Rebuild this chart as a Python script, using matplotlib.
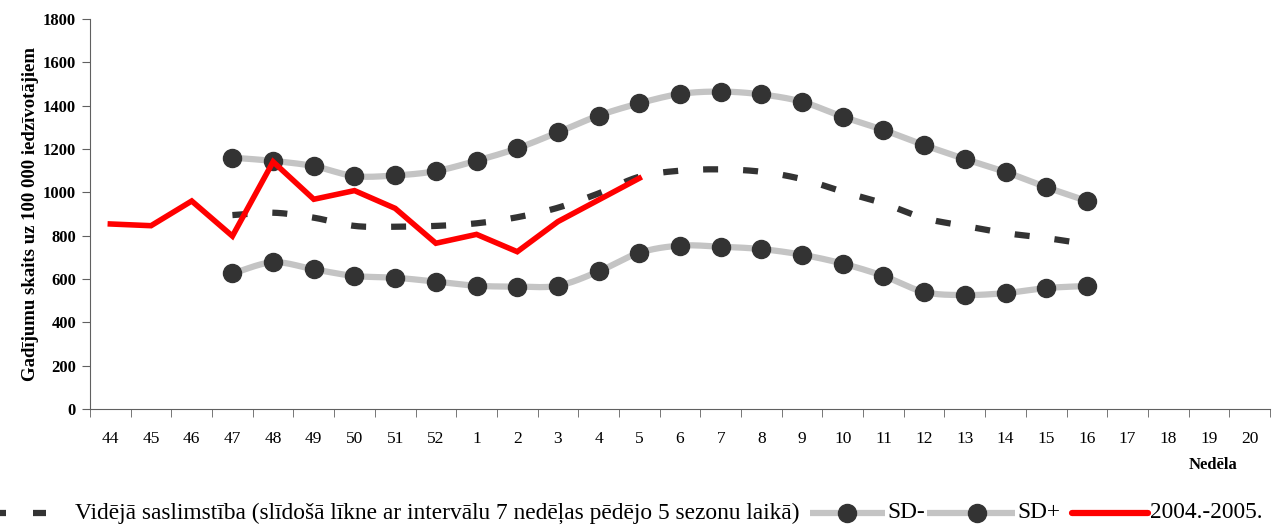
import numpy as np
import matplotlib
matplotlib.use("Agg")
import matplotlib.pyplot as plt
from matplotlib.lines import Line2D

plt.rcParams['font.family'] = ['Liberation Serif', 'DejaVu Serif']

weeks = ['44', '45', '46', '47', '48', '49', '50', '51', '52', '1', '2', '3', '4', '5',
         '6', '7', '8', '9', '10', '11', '12', '13', '14', '15', '16', '17', '18', '19', '20']

# week 47 .. 16
mean_vals = [895, 906, 883, 845, 841, 845, 857, 885, 929, 995, 1072, 1100, 1106, 1095,
             1061, 1003, 949, 881, 845, 812, 789, 761]
sd_minus = [626, 677, 645, 614, 606, 588, 569, 565, 569, 635, 721, 754, 749, 738,
            712, 671, 614, 540, 526, 535, 558, 568]
sd_plus = [1160, 1145, 1121, 1075, 1078, 1098, 1146, 1203, 1277, 1354, 1411, 1454, 1465, 1452,
           1418, 1349, 1288, 1218, 1154, 1094, 1024, 960]
# week 44 .. 5
season_2004 = [854, 846, 960, 798, 1141, 968, 1008, 926, 765, 806, 726, 865, 965, 1065]


def smooth(x, y, n=20):
    # Catmull-Rom curve through the points (like Excel "smoothed line")
    x = np.asarray(x, float)
    y = np.asarray(y, float)
    px = np.concatenate([[2 * x[0] - x[1]], x, [2 * x[-1] - x[-2]]])
    py = np.concatenate([[2 * y[0] - y[1]], y, [2 * y[-1] - y[-2]]])
    xs, ys = [], []
    t = np.linspace(0, 1, n, endpoint=False)
    for i in range(1, len(px) - 2):
        for p, out in ((px, xs), (py, ys)):
            p0, p1, p2, p3 = p[i - 1], p[i], p[i + 1], p[i + 2]
            out.extend(0.5 * ((2 * p1) + (-p0 + p2) * t
                              + (2 * p0 - 5 * p1 + 4 * p2 - p3) * t ** 2
                              + (-p0 + 3 * p1 - 3 * p2 + p3) * t ** 3))
    xs.append(x[-1])
    ys.append(y[-1])
    return np.array(xs), np.array(ys)


W, H = 1274, 526
fig = plt.figure(figsize=(W / 100, H / 100), dpi=100)
ax = fig.add_axes([90 / W, 117 / H, 1180 / W, 390 / H])

x_sd = np.arange(3, 3 + len(sd_plus))
x_red = np.arange(len(season_2004))

sd_col = '#c4c4c4'
mk_col = '#333333'
dash = (0, (2.4, 4.0))

for vals in (sd_minus, sd_plus):
    sx, sy = smooth(x_sd, vals)
    ax.plot(sx, sy, color=sd_col, lw=4.5, zorder=2, solid_capstyle='butt')
    ax.plot(x_sd, vals, ls='none', marker='o', ms=13, color=mk_col, zorder=3)

mx, my = smooth(x_sd, mean_vals)
ax.plot(mx, my, color=mk_col, lw=4.5, ls=dash, zorder=2)

ax.plot(x_red, season_2004, color='#ff0000', lw=4, zorder=4, solid_joinstyle='miter')

ax.set_xlim(-0.5, len(weeks) - 0.5)
ax.set_ylim(0, 1800)
ax.set_yticks(np.arange(0, 1801, 200))
ax.set_yticklabels([str(v) for v in range(0, 1801, 200)], fontweight='bold', fontsize=12)
ax.set_xticks(np.arange(len(weeks)))
ax.set_xticklabels(weeks, fontsize=12.5)
ax.set_xticks(np.arange(len(weeks) + 1) - 0.5, minor=True)
ax.tick_params(axis='x', which='major', length=0, pad=16)
ax.tick_params(axis='x', which='minor', length=6, color='#606060', direction='out')
ax.tick_params(axis='y', length=6, color='#606060', pad=4)
for s in ('top', 'right'):
    ax.spines[s].set_visible(False)
for s in ('left', 'bottom'):
    ax.spines[s].set_color('#606060')

ax.set_ylabel('Gadījumu skaits uz 100 000 iedzīvotājiem', fontweight='bold', fontsize=13.5, labelpad=3)
fig.text(1213 / W, 1 - 465 / H, 'Nedēla', fontweight='bold', fontsize=12, ha='center', va='center')

# legend drawn along the bottom edge
ly = 1 - 513 / H
def fx(px):
    return px / W

for x0, x1 in ((-7, 6), (33, 46)):
    fig.add_artist(Line2D([fx(x0), fx(x1)], [ly, ly], color=mk_col, lw=4.5,
                          solid_capstyle='butt', transform=fig.transFigure))
fig.text(fx(75), ly, 'Vidējā saslimstība (slīdošā līkne ar intervālu 7 nedēļas pēdējo 5 sezonu laikā)',
         fontsize=16.8, va='center', ha='left')
for x0, x1, xm, lab in ((810, 885, 847, 'SD-'), (927, 1015, 977, 'SD+')):
    fig.add_artist(Line2D([fx(x0), fx(x1)], [ly, ly], color=sd_col, lw=4.5,
                          solid_capstyle='butt', transform=fig.transFigure))
    fig.add_artist(Line2D([fx(xm)], [ly], ls='none', marker='o', ms=13, color=mk_col,
                          transform=fig.transFigure))
    fig.text(fx(x1 + 2), ly, lab, fontsize=16.8, va='center', ha='left')
fig.add_artist(Line2D([fx(1072), fx(1148)], [ly, ly], color='#ff0000', lw=4.5,
                      solid_capstyle='round', transform=fig.transFigure))
fig.text(fx(1150), ly, '2004.-2005.', fontsize=16.8, va='center', ha='left')

fig.savefig('out.png', dpi=100)
